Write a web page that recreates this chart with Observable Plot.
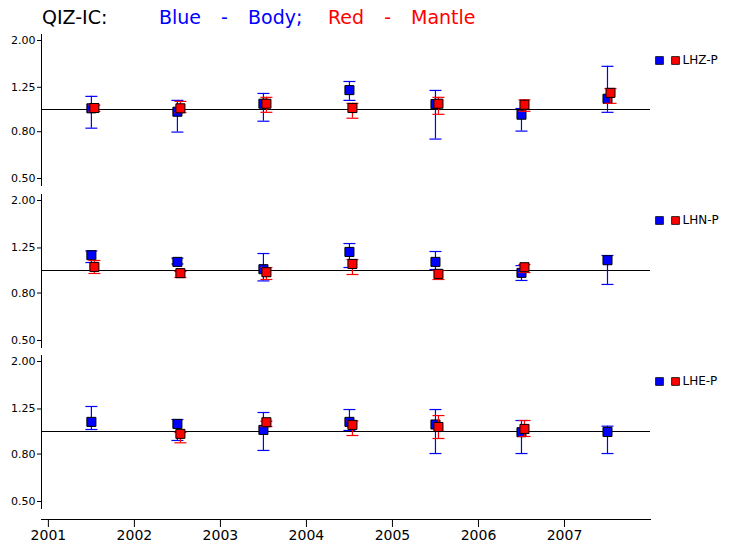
<!DOCTYPE html>
<html><head><meta charset="utf-8">
<script src="https://cdn.jsdelivr.net/npm/d3@7"></script>
<script src="https://cdn.jsdelivr.net/npm/@observablehq/plot@0.6"></script>
<style>
body{margin:0;background:#fff;}
#chart{position:relative;width:733px;height:551px;overflow:hidden;font-family:"DejaVu Sans",sans-serif;}
#chart svg{position:absolute;left:0;}
.title{position:absolute;top:5px;font-size:19px;line-height:24px;white-space:pre;word-spacing:14px;}
</style></head>
<body><div id="chart">
<div class="title" style="left:42px;color:#000">QIZ-IC:</div>
<div class="title" style="left:159px;color:#0000ff">Blue - Body;</div>
<div class="title" style="left:328px;color:#ff0000">Red - Mantle</div>
</div>
<script>
// ---- data ----
const years = [2001, 2002, 2003, 2004, 2005, 2006, 2007];
const yTicks = [0.5, 0.8, 1.25, 2.0];
const components = ["LHZ-P", "LHN-P", "LHE-P"];

const lhzBody     = [1.012, 0.978, 1.060, 1.215, 1.056, 0.949, 1.114];
const lhzBodyLo   = [0.829, 0.797, 0.889, 1.096, 0.743, 0.805, 0.972];
const lhzBodyHi   = [1.141, 1.096, 1.175, 1.325, 1.211, 1.010, 1.543];
const lhzMantle   = [1.015, 1.012, 1.060, 1.015, 1.060, 1.049, 1.182];
const lhzMantleLo = [0.980, 0.969, 0.972, 0.916, 0.953, 0.982, 1.064];
const lhzMantleHi = [1.045, 1.085, 1.130, 1.064, 1.130, 1.102, 1.235];

const lhnBody     = [1.163, 1.089, 1.013, 1.202, 1.089, 0.977, 1.107];
const lhnBodyLo   = [1.082, 1.067, 0.902, 1.030, 1.010, 0.906, 0.871];
const lhnBodyHi   = [1.214, 1.130, 1.183, 1.306, 1.207, 1.050, 1.160];
const lhnMantle   = [1.036, 0.974, 0.983, 1.067, 0.967, 1.033, null];
const lhnMantleLo = [0.971, 0.933, 0.915, 0.961, 0.915, 0.980, null];
const lhnMantleHi = [1.104, 0.990, 1.030, 1.115, 1.000, 1.060, null];

const lheBody     = [1.100, 1.078, 1.016, 1.100, 1.072, 0.993, 0.996];
const lheBodyLo   = [1.020, 0.915, 0.829, 1.010, 0.804, 0.804, 0.804];
const lheBodyHi   = [1.281, 1.126, 1.207, 1.243, 1.243, 1.115, 1.054];
const lheMantle   = [null, 0.977, 1.096, 1.068, 1.046, 1.026, null];
const lheMantleLo = [null, 0.894, 1.050, 0.961, 0.933, 0.952, null];
const lheMantleHi = [null, 0.990, 1.107, 1.110, 1.171, 1.115, null];

// ---- chart ----
const BLUE = "#0000ff", RED = "#ff0000";
const xDomain = [2000.92, 2008];
const yDomain = [0.5, 2.0];
const capSymbol = {draw(ctx) { ctx.moveTo(-6, 0); ctx.lineTo(6, 0); }};

function rows(v, lo, hi) {
  return years.map((yr, i) => ({x: yr + 0.5, v: v[i], lo: lo[i], hi: hi[i]})).filter(d => d.v != null);
}

function seriesMarks(data, color, dx) {
  return [
    Plot.ruleX(data, {x: "x", y1: "lo", y2: "hi", stroke: color, strokeWidth: 1.2, dx}),
    Plot.dot(data, {x: "x", y: "lo", symbol: capSymbol, r: 3, stroke: color, strokeWidth: 1.2, fill: "none", dx}),
    Plot.dot(data, {x: "x", y: "hi", symbol: capSymbol, r: 3, stroke: color, strokeWidth: 1.2, fill: "none", dx}),
    Plot.dot(data, {x: "x", y: "v", symbol: "square", r: 5.1, fill: color, stroke: "black", strokeWidth: 1, dx})
  ];
}

function panel(label, body, mantle, top, height, marginTop, marginBottom) {
  const svg = Plot.plot({
    width: 733, height, marginTop, marginBottom, marginLeft: 41, marginRight: 83,
    insetTop: 6, insetBottom: 7,
    style: {fontFamily: "DejaVu Sans", fontSize: "11px", background: "transparent", color: "black", overflow: "visible"},
    x: {domain: xDomain, axis: null, label: null},
    y: {type: "log", domain: yDomain, ticks: yTicks, tickFormat: d3.format(".2f"), tickSize: 4, tickPadding: 2, label: null},
    marks: [
      Plot.frame({anchor: "left", stroke: "black"}),
      Plot.ruleY([1], {stroke: "black", strokeWidth: 1}),
      ...seriesMarks(body, BLUE, 0),
      ...seriesMarks(mantle, RED, 3),
      Plot.dot([label], {frameAnchor: "top-right", dx: 9, dy: 26, symbol: "square", r: 4.4, fill: BLUE, stroke: "black", strokeWidth: 0.8}),
      Plot.dot([label], {frameAnchor: "top-right", dx: 25, dy: 26, symbol: "square", r: 4.4, fill: RED, stroke: "black", strokeWidth: 0.8}),
      Plot.text([label], {frameAnchor: "top-right", dx: 32, dy: 26, text: d => d, textAnchor: "start", lineAnchor: "middle", fontSize: 12, fill: "black"})
    ]
  });
  svg.style.top = top + "px";
  document.getElementById("chart").appendChild(svg);
}

panel(components[0], rows(lhzBody, lhzBodyLo, lhzBodyHi), rows(lhzMantle, lhzMantleLo, lhzMantleHi), 0, 190, 34, 5);
panel(components[1], rows(lhnBody, lhnBodyLo, lhnBodyHi), rows(lhnMantle, lhnMantleLo, lhnMantleHi), 190, 161, 4, 4);
panel(components[2], rows(lheBody, lheBodyLo, lheBodyHi), rows(lheMantle, lheMantleLo, lheMantleHi), 351, 161, 4, 4);

const xAxis = Plot.plot({
  width: 733, height: 43, marginTop: 10, marginBottom: 32, marginLeft: 41, marginRight: 83,
  style: {fontFamily: "DejaVu Sans", fontSize: "14px", background: "transparent", color: "black", overflow: "visible"},
  x: {domain: xDomain, label: null},
  marks: [
    Plot.frame({anchor: "bottom", stroke: "black"}),
    Plot.axisX({ticks: years, tickFormat: d => String(d), tickSize: 8, tickPadding: 3, fontSize: 14, label: null})
  ]
});
xAxis.style.top = "508px";
document.getElementById("chart").appendChild(xAxis);
</script>
</body></html>
